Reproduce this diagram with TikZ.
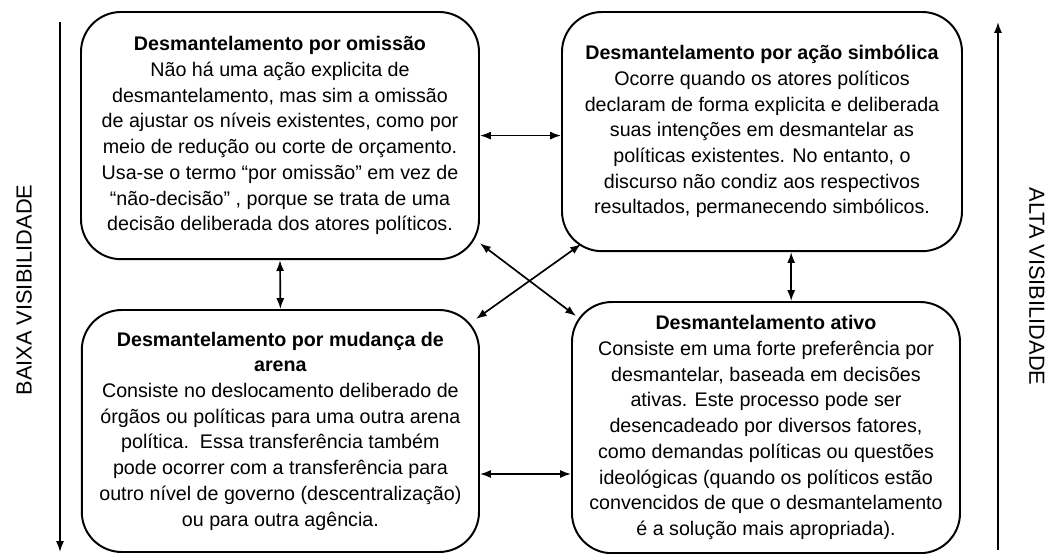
\documentclass[tikz,border=0pt]{standalone}
\usepackage{fontspec}
\setmainfont{Liberation Sans}
\usepackage{tikz}
\usetikzlibrary{arrows.meta}

\newcommand{\boxfont}{\fontsize{14}{18.3}\selectfont}
\newcommand{\axisfont}{\fontsize{15.5}{18}\selectfont}

\begin{document}
\begin{tikzpicture}
		% Define styles for the boxes and the double arrows
		\tikzset{pbox/.style={draw, line width=1.4pt, rounded corners=1cm, align=center, inner sep=2pt, font=\boxfont}}
		\tikzset{bidir/.style={{Latex[length=2.7mm,width=2mm]}-{Latex[length=2.7mm,width=2mm]}, line width=1.2pt}}
		\tikzset{axis/.style={-{Latex[length=2.7mm,width=2mm]}, line width=1.2pt}}
		
		% Fix the size of the picture
		\useasboundingbox (0,0) rectangle (26.4,13.85);
		
		% Draw the four boxes
		\node[pbox, minimum width=9.95cm, minimum height=6.18cm] (omissao) at (7.0,10.46) {%
			\textbf{Desmantelamento por omissão}\\
			Não há uma ação explicita de\\
			desmantelamento, mas sim a omissão\\
			de ajustar os níveis existentes, como por\\
			meio de redução ou corte de orçamento.\\
			Usa-se o termo “por omissão” em vez de\\
			“não-decisão” , porque se trata de uma\\
			decisão deliberada dos atores políticos.};
		\node[pbox, minimum width=10.0cm, minimum height=5.98cm] (simbolica) at (19.05,10.56) {%
			\textbf{Desmantelamento por ação simbólica}\\
			Ocorre quando os atores políticos\\
			declaram de forma explicita e deliberada\\
			suas intenções em desmantelar as\\
			políticas existentes. No entanto, o\\
			discurso não condiz aos respectivos\\
			resultados, permanecendo simbólicos.};
		\node[pbox, minimum width=9.93cm, minimum height=6.05cm] (arena) at (7.01,3.075) {%
			\textbf{Desmantelamento por mudança de}\\
			\textbf{arena}\\
			Consiste no deslocamento deliberado de\\
			órgãos ou políticas para uma outra arena\\
			política.\ \ Essa transferência também\\
			pode ocorrer com a transferência para\\
			outro nível de governo (descentralização)\\
			ou para outra agência.};
		\node[pbox, minimum width=9.7cm, minimum height=6.28cm] (ativo) at (19.15,3.16) {%
			\textbf{Desmantelamento ativo}\\
			Consiste em uma forte preferência por\\
			desmantelar, baseada em decisões\\
			ativas. Este processo pode ser\\
			desencadeado por diversos fatores,\\
			como demandas políticas ou questões\\
			ideológicas (quando os políticos estão\\
			convencidos de que o desmantelamento\\
			é a solução mais apropriada).};
		
		% Draw the arrows between the boxes
		\draw[bidir] (omissao.east) -- (omissao.east -| simbolica.west);
		\draw[bidir] ([yshift=-10.75mm]arena.east) -- ([yshift=-10.75mm]arena.east -| ativo.west);
		\draw[bidir] (omissao.south) -- (arena.north);
		\draw[bidir] ([xshift=7.3mm]simbolica.south) -- ([xshift=7.3mm]simbolica.south |- ativo.north);
		\draw[bidir] ([shift={(0,0.42)}]omissao.south east) -- ([shift={(0.125,-0.375)}]ativo.north west);
		\draw[bidir] ([shift={(0.5,0.2)}]simbolica.south west) -- ([shift={(-0.1,-0.25)}]arena.north east);
		
		% Draw the visibility axes with their labels
		\coordinate (baixaTop) at (1.5,13.3);
		\coordinate (baixaEnd) at (1.5,0.05);
		\coordinate (altaBot) at (24.95,0.1);
		\coordinate (altaEnd) at (24.95,13.3);
		\draw[axis] (baixaTop) -- (baixaEnd);
		\draw[axis] (altaBot) -- (altaEnd);
		\node[rotate=90, font=\axisfont] (baixa) at (0.6,6.6) {BAIXA VISIBILIDADE};
		\node[rotate=-90, font=\axisfont] (alta) at (25.92,6.69) {ALTA VISIBILIDADE};
	\end{tikzpicture}
\end{document}
